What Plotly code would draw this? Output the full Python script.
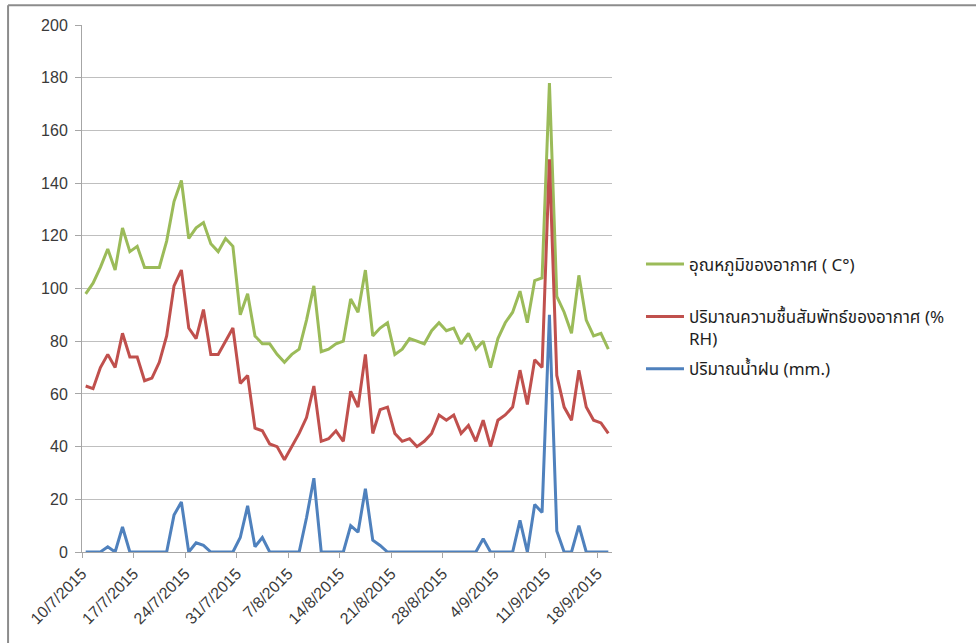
import pandas as pd
import plotly.graph_objects as go

# Daily observations, 10 Jul 2015 - 19 Sep 2015
start_date = "2015-07-10"
n_days = 72

temperature = [98, 102, 108, 115, 107, 123, 114, 116, 108, 108, 108, 118, 133, 141, 119, 123,
               125, 117, 114, 119, 116, 90, 98, 82, 79, 79, 75, 72, 75, 77, 88, 101,
               76, 77, 79, 80, 96, 91, 107, 82, 85, 87, 75, 77, 81, 80, 79, 84,
               87, 84, 85, 79, 83, 77, 80, 70, 81, 87, 91, 99, 87, 103, 104, 178,
               97, 91, 83, 105, 88, 82, 83, 77]

humidity = [63, 62, 70, 75, 70, 83, 74, 74, 65, 66, 72, 82, 101, 107, 85, 81,
            92, 75, 75, 80, 85, 64, 67, 47, 46, 41, 40, 35, 40, 45, 51, 63,
            42, 43, 46, 42, 61, 55, 75, 45, 54, 55, 45, 42, 43, 40, 42, 45,
            52, 50, 52, 45, 48, 42, 50, 40, 50, 52, 55, 69, 56, 73, 70, 149,
            67, 55, 50, 69, 55, 50, 49, 45]

rainfall = [0, 0, 0, 2, 0, 9.5, 0, 0, 0, 0, 0, 0, 14, 19, 0, 3.5,
            2.5, 0, 0, 0, 0, 5.5, 17.5, 2, 5.5, 0, 0, 0, 0, 0, 13, 28,
            0, 0, 0, 0, 10, 7.5, 24, 4.5, 2.5, 0, 0, 0, 0, 0, 0, 0,
            0, 0, 0, 0, 0, 0, 5, 0, 0, 0, 0, 12, 0, 18, 15, 90,
            8, 0, 0, 10, 0, 0, 0, 0]

series_names = ["อุณหภูมิของอากาศ ( C°)",
                "ปริมาณความชื้นสัมพัทธ์ของอากาศ (%<br>RH)",
                "ปริมาณน้ำฝน (mm.)"]
series_colors = ["#9bbb59", "#c0504d", "#4f81bd"]
legend_ids = ["legend", "legend2", "legend3"]
legend_tops = [0.580, 0.480, 0.381]

tick_dates = pd.date_range(start_date, periods=11, freq="7D")
tick_labels = [f"{d.day}/{d.month}/{d.year}" for d in tick_dates]

days = pd.date_range(start_date, periods=n_days, freq="D")
# each day's value sits in the middle of its day slot
x_mid = days + pd.Timedelta(hours=12)

thai_font = "Noto Sans Thai, Noto Sans, Tahoma, sans-serif"
axis_font = dict(family="Liberation Sans, Arial, sans-serif", size=16, color="#3a3a3a")

fig = go.Figure()
for name, vals, col, leg in zip(series_names, [temperature, humidity, rainfall],
                                series_colors, legend_ids):
    fig.add_trace(go.Scatter(
        x=x_mid, y=vals, mode="lines", name=name,
        line=dict(color=col, width=3), legend=leg,
    ))

legend_style = dict(
    x=1.0547, xanchor="left", yanchor="top",
    font=dict(family=thai_font, size=17, color="#1e1e1e"),
    itemwidth=38, valign="top", bgcolor="rgba(0,0,0,0)",
)
legend_layout = {leg: dict(legend_style, y=top) for leg, top in zip(legend_ids, legend_tops)}

fig.update_layout(
    width=976, height=643,
    margin=dict(l=82, r=364, t=25, b=91),
    paper_bgcolor="white", plot_bgcolor="white",
    showlegend=True,
    **legend_layout,
    xaxis=dict(
        type="date",
        range=[days[0], days[-1] + pd.Timedelta(days=1)],
        tickmode="array", tickvals=tick_dates, ticktext=tick_labels,
        tickangle=-45, tickfont=axis_font,
        showgrid=False, zeroline=False,
        showline=True, linecolor="#a6a6a6", linewidth=1,
        ticks="outside", ticklen=5, tickcolor="#a6a6a6",
    ),
    yaxis=dict(
        range=[0, 200], dtick=20, tick0=0,
        tickfont=axis_font, ticklabelstandoff=4,
        showgrid=True, gridcolor="#bfbfbf", gridwidth=1,
        zeroline=False,
        showline=True, linecolor="#a6a6a6", linewidth=1,
        ticks="outside", ticklen=6, tickcolor="#a6a6a6",
    ),
    shapes=[
        # chart frame on the top and left edges
        dict(type="line", xref="paper", yref="paper", x0=-0.1395, x1=1.7, y0=1.0375, y1=1.0375,
             line=dict(color="#8c8c8c", width=2)),
        dict(type="line", xref="paper", yref="paper", x0=-0.1395, x1=-0.1395, y0=1.0375, y1=-0.2,
             line=dict(color="#8c8c8c", width=2)),
    ],
)

fig.write_html("out.html")
